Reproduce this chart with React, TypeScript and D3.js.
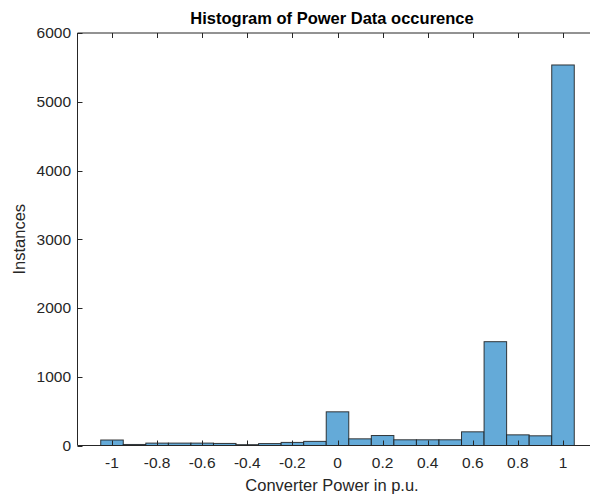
import React from "react";
import * as d3 from "d3";

const binCenters = [-1, -0.9, -0.8, -0.7, -0.6, -0.5, -0.4, -0.3, -0.2, -0.1, 0, 0.1, 0.2, 0.3, 0.4, 0.5, 0.6, 0.7, 0.8, 0.9, 1];
const counts = [80, 15, 35, 35, 35, 30, 12, 28, 45, 60, 490, 97, 145, 83, 83, 83, 199, 1510, 155, 141, 5535];
const binWidth = 0.1;
const xTicks = [-1, -0.8, -0.6, -0.4, -0.2, 0, 0.2, 0.4, 0.6, 0.8, 1];
const yTicks = [0, 1000, 2000, 3000, 4000, 5000, 6000];

const W = 590;
const H = 498;
const left = 77.5;
const top = 33;
const bottom = 445.5;
const right = 597.5;
const font = "'Liberation Sans', Arial, Helvetica, sans-serif";
const axisColor = "#262626";

export default function App() {
  const x = d3.scaleLinear().domain([-1.153, 1.153]).range([left, right]);
  const y = d3.scaleLinear().domain([0, 6000]).range([bottom, top]);
  const tickLen = 5;
  return (
    <svg width={W} height={H} style={{ position: "absolute", left: 0, top: 0, background: "#fff" }}>
      <rect x={0} y={0} width={W} height={H} fill="#fff" />
      {binCenters.map((c, i) => (
        <rect
          key={i}
          x={x(c - binWidth / 2)}
          y={y(counts[i])}
          width={x(c + binWidth / 2) - x(c - binWidth / 2)}
          height={y(0) - y(counts[i])}
          fill="#64aad8"
          stroke="#1a1a1a"
          strokeOpacity={0.85}
          strokeWidth={1}
        />
      ))}
      <line x1={left} x2={right} y1={top} y2={top} stroke={axisColor} strokeWidth={1} />
      <line x1={left} x2={right} y1={bottom} y2={bottom} stroke={axisColor} strokeWidth={1} />
      <line x1={left} x2={left} y1={top} y2={bottom} stroke={axisColor} strokeWidth={1} />
      <line x1={right} x2={right} y1={top} y2={bottom} stroke={axisColor} strokeWidth={1} />
      {xTicks.map((t) => (
        <g key={"x" + t}>
          <line x1={Math.round(x(t)) + 0.5} x2={Math.round(x(t)) + 0.5} y1={bottom} y2={bottom - tickLen} stroke={axisColor} />
          <line x1={Math.round(x(t)) + 0.5} x2={Math.round(x(t)) + 0.5} y1={top} y2={top + tickLen} stroke={axisColor} />
          <text x={x(t)} y={467.5} textAnchor="middle" fontFamily={font} fontSize={15.5} fill={axisColor}>
            {t}
          </text>
        </g>
      ))}
      {yTicks.map((t) => (
        <g key={"y" + t}>
          <line x1={left} x2={left + tickLen} y1={Math.round(y(t)) + 0.5} y2={Math.round(y(t)) + 0.5} stroke={axisColor} />
          <line x1={right} x2={right - tickLen} y1={Math.round(y(t)) + 0.5} y2={Math.round(y(t)) + 0.5} stroke={axisColor} />
          <text x={71} y={y(t)} dy="0.35em" textAnchor="end" fontFamily={font} fontSize={15.5} fill={axisColor}>
            {t}
          </text>
        </g>
      ))}
      <text x={332} y={24.3} textAnchor="middle" fontFamily={font} fontSize={16.5} fontWeight="bold" fill="#000">
        Histogram of Power Data occurence
      </text>
      <text x={332} y={491} textAnchor="middle" fontFamily={font} fontSize={16.5} fill={axisColor}>
        Converter Power in p.u.
      </text>
      <text
        transform={`translate(25,${(top + bottom) / 2}) rotate(-90)`}
        textAnchor="middle"
        fontFamily={font}
        fontSize={16.5}
        fill={axisColor}
      >
        Instances
      </text>
    </svg>
  );
}
